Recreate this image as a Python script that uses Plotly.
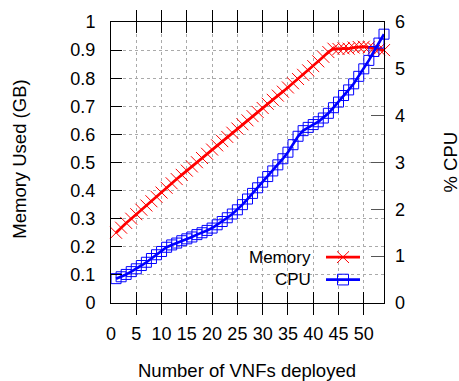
import plotly.graph_objects as go

# ---- data ----
vnfs = list(range(1, 55))
memory_gb = [0.250, 0.268, 0.285, 0.300, 0.316, 0.332, 0.347, 0.362, 0.378, 0.393,
             0.410, 0.426, 0.441, 0.456, 0.471, 0.486, 0.501, 0.516, 0.531, 0.546,
             0.561, 0.576, 0.591, 0.606, 0.621, 0.636, 0.650, 0.665, 0.680, 0.694,
             0.709, 0.723, 0.738, 0.752, 0.767, 0.782, 0.797, 0.812, 0.828, 0.843,
             0.860, 0.876, 0.893, 0.905, 0.904, 0.906, 0.905, 0.909, 0.911, 0.912,
             0.910, 0.906, 0.903, 0.900]
cpu_pct = [0.52, 0.56, 0.61, 0.67, 0.73, 0.80, 0.87, 0.95, 1.03, 1.10,
           1.19, 1.24, 1.28, 1.33, 1.37, 1.41, 1.46, 1.50, 1.55, 1.60,
           1.67, 1.74, 1.82, 1.90, 1.99, 2.10, 2.22, 2.34, 2.46, 2.58,
           2.70, 2.82, 2.95, 3.08, 3.22, 3.38, 3.56, 3.68, 3.75, 3.81,
           3.87, 3.95, 4.05, 4.17, 4.29, 4.43, 4.55, 4.68, 4.84, 5.00,
           5.18, 5.37, 5.55, 5.74]
x_ticks = [0, 5, 10, 15, 20, 25, 30, 35, 40, 45, 50]
mem_ticks = [0, 0.1, 0.2, 0.3, 0.4, 0.5, 0.6, 0.7, 0.8, 0.9, 1]
cpu_ticks = [0, 1, 2, 3, 4, 5, 6]
series_names = ["Memory", "CPU"]

FONT = "Liberation Sans, Arial, sans-serif"
FS = 18
FT = 18.5
RED = "#ff0000"
BLUE = "#0000ff"
GRID = "#aaaaaa"

fig = go.Figure()
fig.add_trace(go.Scatter(
    x=vnfs, y=memory_gb, name=series_names[0], mode="lines+markers",
    line=dict(color=RED, width=2.7),
    marker=dict(symbol="x-thin-open", size=12, line=dict(color=RED, width=1), color=RED),
    cliponaxis=False, yaxis="y"))
fig.add_trace(go.Scatter(
    x=vnfs, y=cpu_pct, name=series_names[1], mode="lines+markers",
    line=dict(color=BLUE, width=2.7),
    marker=dict(symbol="square-open", size=10, line=dict(color=BLUE, width=1), color=BLUE),
    cliponaxis=False, yaxis="y2"))

L, R, T, B = 111, 75, 15, 78
W, H = 459, 381
pw, ph = W - L - R, H - T - B

fig.update_layout(
    width=W, height=H,
    margin=dict(l=L, r=R, t=T, b=B, pad=0),
    paper_bgcolor="white", plot_bgcolor="white",
    showlegend=False,
    font=dict(family=FONT, size=FS, color="black"),
    xaxis=dict(range=[0, 54], tickvals=x_ticks, ticktext=[str(v) for v in x_ticks],
               ticks="inside", ticklen=11, tickcolor="black", tickwidth=1,
               showline=True, linecolor="black", linewidth=1, mirror="allticks",
               showgrid=True, gridcolor=GRID, griddash="dot", gridwidth=1,
               zeroline=False, ticklabelstandoff=14,
               tickfont=dict(family=FONT, size=FS)),
    yaxis=dict(range=[0, 1], tickvals=mem_ticks, ticktext=[f"{v:g}" for v in mem_ticks],
               ticks="inside", ticklen=11, tickcolor="black", tickwidth=1,
               showline=True, linecolor="black", linewidth=1, mirror=True,
               showgrid=True, gridcolor=GRID, griddash="dot", gridwidth=1,
               zeroline=False, ticklabelstandoff=11,
               tickfont=dict(family=FONT, size=FS)),
    yaxis2=dict(range=[0, 6], tickvals=cpu_ticks, ticktext=[str(v) for v in cpu_ticks],
                overlaying="y", side="right", anchor="x",
                ticks="inside", ticklen=13, tickcolor="#555555", tickwidth=1,
                showline=False, showgrid=False, zeroline=False, ticklabelstandoff=10,
                tickfont=dict(family=FONT, size=FS)),
)

# axis titles
fig.add_annotation(text="Memory Used (GB)", xref="paper", yref="paper",
                   x=(20 - L) / pw, y=0.51, textangle=-90, showarrow=False,
                   xanchor="center", yanchor="middle", font=dict(family=FONT, size=FT))
fig.add_annotation(text="% CPU", xref="paper", yref="paper",
                   x=(450 - L) / pw, y=0.5, textangle=-90, showarrow=False,
                   xanchor="center", yanchor="middle", font=dict(family=FONT, size=FT))
fig.add_annotation(text="Number of VNFs deployed", xref="paper", yref="paper",
                   x=(246.5 - L) / pw, y=(T + ph - 372) / ph, showarrow=False,
                   xanchor="center", yanchor="middle", font=dict(family=FONT, size=FT))

# gnuplot-style key (text on the left, sample on the right)
def px(xp):
    return (xp - L) / pw

def py(yp):
    return (T + ph - yp) / ph

key_rows = [(256, series_names[0], RED, "x"), (279, series_names[1], BLUE, "sq")]
for yrow, label, col, kind in key_rows:
    fig.add_annotation(text=label, xref="paper", yref="paper", x=px(313), y=py(yrow),
                       xanchor="right", yanchor="middle", showarrow=False,
                       font=dict(family=FONT, size=FS - 1))
    fig.add_shape(type="line", xref="paper", yref="paper", x0=px(326), x1=px(360),
                  y0=py(yrow), y1=py(yrow), line=dict(color=col, width=2.7))
    if kind == "x":
        for d in (1, -1):
            fig.add_shape(type="line", xref="paper", yref="paper",
                          x0=px(343 - 6), x1=px(343 + 6), y0=py(yrow - 6 * d), y1=py(yrow + 6 * d),
                          line=dict(color=col, width=1))
    else:
        fig.add_shape(type="rect", xref="paper", yref="paper",
                      x0=px(343 - 5.5), x1=px(343 + 5.5), y0=py(yrow - 5.5), y1=py(yrow + 5.5),
                      line=dict(color=col, width=1))

fig.write_html("out.html", config={"displayModeBar": False},
               post_script="document.body.style.margin='0';document.body.style.overflow='hidden';")
